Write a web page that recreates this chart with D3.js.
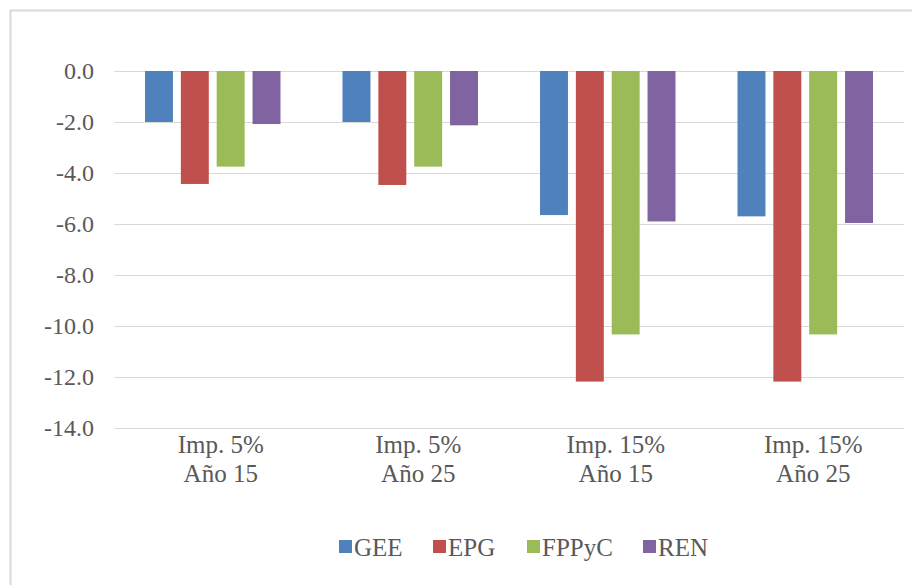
<!DOCTYPE html>
<html>
<head>
<meta charset="utf-8">
<script src="https://cdn.jsdelivr.net/npm/d3@7"></script>
<style>
  body { margin: 0; background: #fff; }
</style>
</head>
<body>
<svg id="chart" width="912" height="585"></svg>
<script>
'use strict';

// Data
var categories = [["Imp. 5%", "Año 15"], ["Imp. 5%", "Año 25"], ["Imp. 15%", "Año 15"], ["Imp. 15%", "Año 25"]];
var seriesNames = ["GEE", "EPG", "FPPyC", "REN"];
var seriesColors = ["#4f81bd", "#c0504d", "#9bbb59", "#8064a2"];
var GEE   = [-2.0, -2.0, -5.65, -5.7];
var EPG   = [-4.43, -4.47, -12.18, -12.18];
var FPPyC = [-3.75, -3.75, -10.33, -10.33];
var REN   = [-2.08, -2.13, -5.9, -5.96];
var yTicks = [0, -2, -4, -6, -8, -10, -12, -14];

var seriesValues = [GEE, EPG, FPPyC, REN];
var FONT = "'Liberation Serif', 'DejaVu Serif', serif";

var svg = d3.select("#chart");

// outer chart frame (runs off the right/bottom edge like the original)
svg.append("rect")
    .attr("x", 10.5).attr("y", 10.5)
    .attr("width", 920).attr("height", 600)
    .attr("fill", "none")
    .attr("stroke", "#d9d9d9")
    .attr("stroke-width", 2);

var margin = {top: 71, left: 114};

var g = svg.append("g")
    .attr("transform", "translate(" + margin.left + "," + margin.top + ")");

var y = d3.scaleLinear().domain([0, -14]).range([0, 357]);

var x0 = d3.scaleBand().domain(d3.range(categories.length)).range([0, 790]);
var x1 = d3.scaleBand().domain(d3.range(seriesNames.length)).range([31, x0.bandwidth() - 31]).paddingInner(0.22);

// gridlines
g.selectAll("line.grid")
    .data(yTicks)
    .enter().append("line")
    .attr("class", "grid")
    .attr("x1", 0).attr("x2", 790)
    .attr("y1", function(d) { return Math.round(y(d)) + 0.5; })
    .attr("y2", function(d) { return Math.round(y(d)) + 0.5; })
    .attr("stroke", "#d9d9d9")
    .attr("stroke-width", 1);

// y tick labels (plain hyphen like the original)
var yAxis = d3.axisLeft(y).tickValues(yTicks).tickSize(0).tickPadding(20)
    .tickFormat(function(d) { return d.toFixed(1); });
var ya = g.append("g").call(yAxis);
ya.select(".domain").remove();
ya.attr("font-family", null).attr("font-size", null);
ya.selectAll("text")
    .style("font-family", FONT)
    .style("font-size", "24px")
    .attr("fill", "#595959")
    .attr("dy", "0.3em");

// bars
var groups = g.selectAll("g.cat")
    .data(categories)
    .enter().append("g")
    .attr("transform", function(d, i) { return "translate(" + x0(i) + ",0)"; });

groups.selectAll("rect")
    .data(function(d, i) { return seriesValues.map(function(s, j) { return {s: j, v: s[i]}; }); })
    .enter().append("rect")
    .attr("x", function(d) { return x1(d.s); })
    .attr("width", x1.bandwidth())
    .attr("y", y(0))
    .attr("height", function(d) { return y(d.v) - y(0); })
    .attr("fill", function(d) { return seriesColors[d.s]; });

// category labels
var xl = g.selectAll("text.cat")
    .data(categories)
    .enter().append("text")
    .attr("class", "cat")
    .attr("text-anchor", "middle")
    .attr("x", function(d, i) { return x0(i) + x0.bandwidth() / 2 + 8; })
    .attr("y", 382)
    .attr("fill", "#595959")
    .style("font-family", FONT)
    .style("font-size", "25px");
xl.selectAll("tspan")
    .data(function(d) { return d; })
    .enter().append("tspan")
    .attr("x", function() { return d3.select(this.parentNode).attr("x"); })
    .attr("dy", function(d, i) { return i === 0 ? 0 : 29; })
    .text(function(d) { return d; });

// legend
var legendX = [339, 433, 527, 643];
var legend = svg.append("g").attr("transform", "translate(0,547)");
var items = legend.selectAll("g")
    .data(seriesNames)
    .enter().append("g")
    .attr("transform", function(d, i) { return "translate(" + legendX[i] + ",0)"; });
items.append("rect")
    .attr("x", 0).attr("y", -7)
    .attr("width", 13).attr("height", 13)
    .attr("fill", function(d, i) { return seriesColors[i]; });
items.append("text")
    .attr("x", 15)
    .attr("y", 9)
    .attr("fill", "#595959")
    .style("font-family", FONT)
    .style("font-size", "25px")
    .text(function(d) { return d; });
</script>
</body>
</html>
